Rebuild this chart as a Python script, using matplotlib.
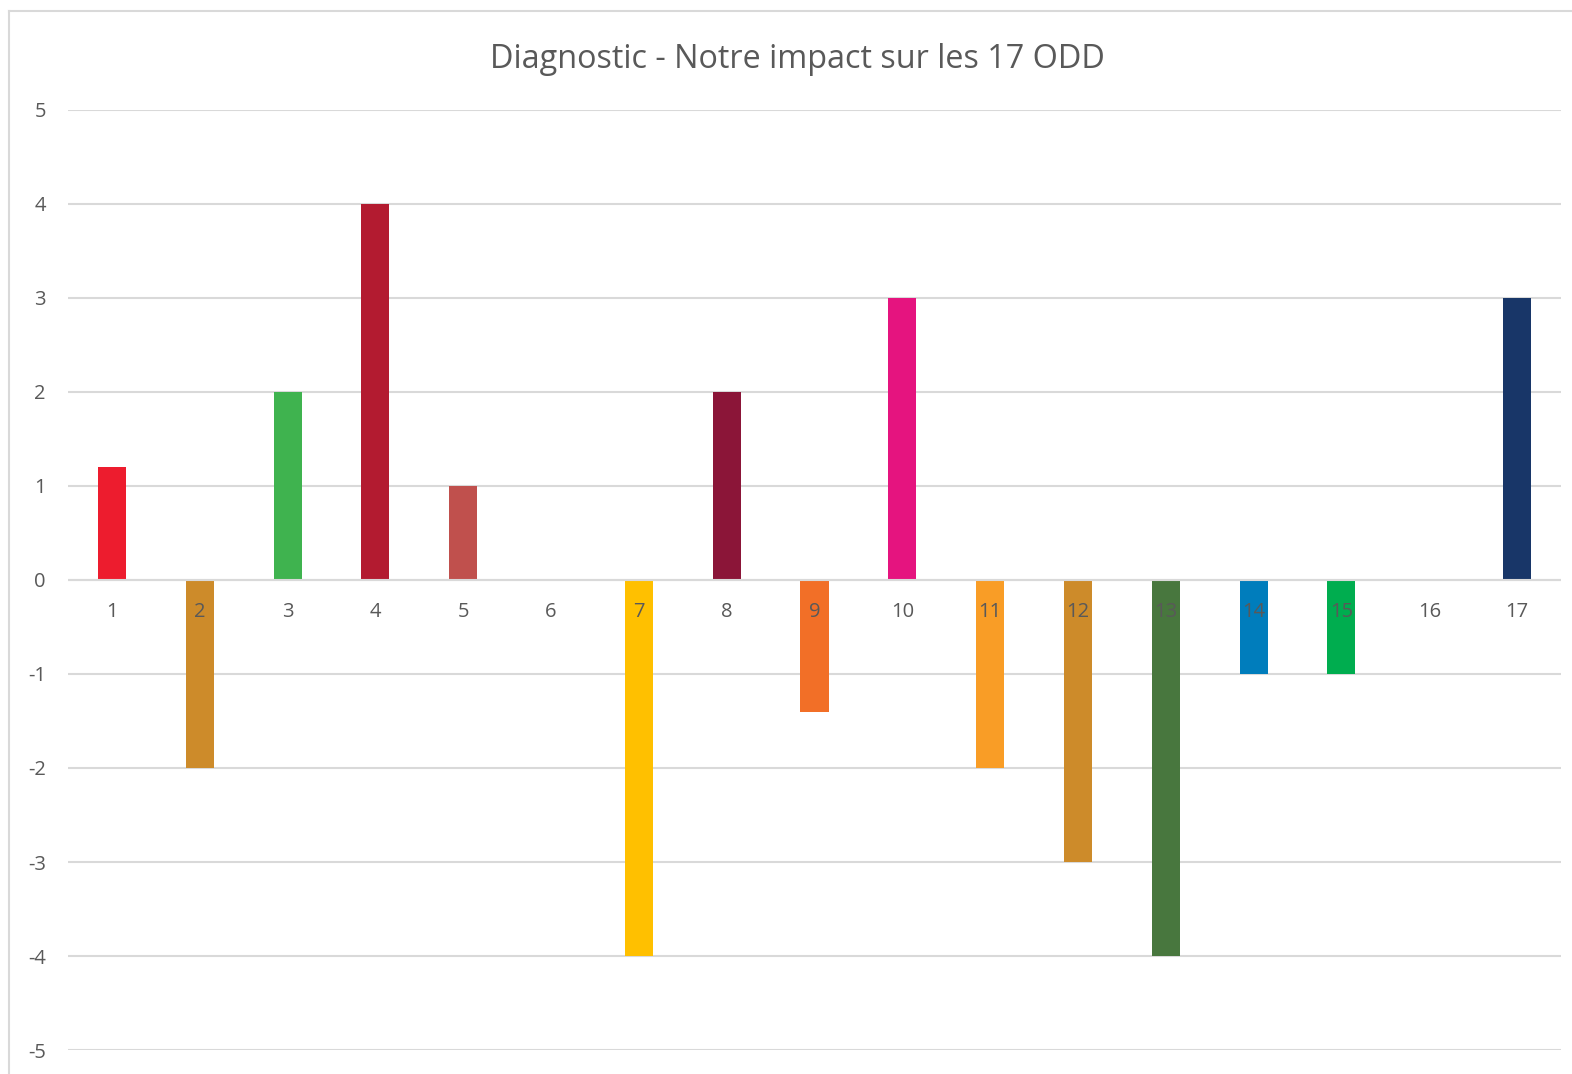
import numpy as np
import matplotlib
matplotlib.use('Agg')
from matplotlib import pyplot as plt
from matplotlib.lines import Line2D

# donnees
odd = ['1', '2', '3', '4', '5', '6', '7', '8', '9', '10', '11', '12', '13', '14', '15', '16', '17']
impact = [1.2, -2, 2, 4, 1, 0, -4, 2, -1.4, 3, -2, -3, -4, -1, -1, 0, 3]
couleurs = ['#ED1C2E', '#CD8B2A', '#3FB34F', '#B31B30', '#C0504D', '#26BDE2',
            '#FFC000', '#8B1538', '#F26F27', '#E5147F', '#F99D26', '#CD8B2A',
            '#48773E', '#007DBC', '#00AD4F', '#02558B', '#183668']
yticks = [-5, -4, -3, -2, -1, 0, 1, 2, 3, 4, 5]

plt.rcParams['font.family'] = ['Open Sans', 'DejaVu Sans']
gris = '#595959'

fig = plt.figure(figsize=(15.72, 10.74), dpi=100)
ax = fig.add_axes([0.0433, 0.0222, 0.9497, 0.8758])

x = np.arange(len(odd))
ax.bar(x, impact, width=0.32, color=couleurs, zorder=2)

ax.set_xlim(-0.5, len(odd) - 0.5)
ax.set_ylim(-5, 5)
ax.set_yticks(yticks)
ax.set_yticklabels([str(v) for v in yticks], color=gris, fontsize=14.5)
ax.tick_params(axis='y', length=0, pad=16)
ax.set_xticks([])
ax.grid(axis='y', color='#D9D9D9', linewidth=1.5, zorder=0)
ax.axhline(0, color='#D9D9D9', linewidth=1.5, zorder=3)
for s in ax.spines.values():
    s.set_visible(False)

# etiquettes des categories sur l'axe 0
for xi, lab in zip(x, odd):
    ax.annotate(lab, xy=(xi, 0), xytext=(0, -32), textcoords='offset pixels',
                ha='center', va='center', fontsize=14.5, color=gris, zorder=4)

fig.suptitle('Diagnostic - Notre impact sur les 17 ODD', x=0.507, y=0.945,
             va='center', fontsize=23.3, color=gris)

# bordure du graphique (gauche et haut)
fig.add_artist(Line2D([0.0055, 0.0055], [0, 0.9895], color='#D9D9D9', lw=1.5))
fig.add_artist(Line2D([0.0055, 1], [0.9895, 0.9895], color='#D9D9D9', lw=1.5))

fig.savefig('out.png', dpi=100)
